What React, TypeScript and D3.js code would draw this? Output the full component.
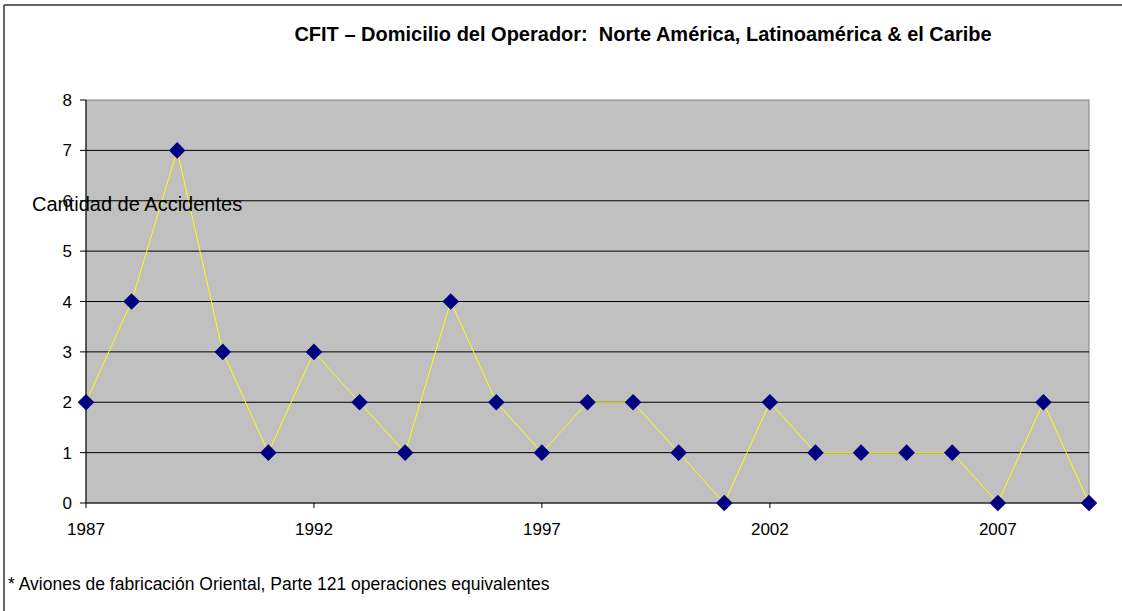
import React from 'react'
import * as d3 from 'd3'

const years = [
  1987, 1988, 1989, 1990, 1991, 1992, 1993, 1994, 1995, 1996, 1997, 1998,
  1999, 2000, 2001, 2002, 2003, 2004, 2005, 2006, 2007, 2008, 2009,
]
const accidents = [2, 4, 7, 3, 1, 3, 2, 1, 4, 2, 1, 2, 2, 1, 0, 2, 1, 1, 1, 1, 0, 2, 0]
const yTicks = [0, 1, 2, 3, 4, 5, 6, 7, 8]
const xTickYears = [1987, 1992, 1997, 2002, 2007]

const title = 'CFIT – Domicilio del Operador:  Norte América, Latinoamérica & el Caribe'
const yLabel = 'Cantidad de Accidentes'
const footnote = '* Aviones de fabricación Oriental, Parte 121 operaciones equivalentes'

const width = 1122
const height = 611
const margin = { top: 100, right: 33, bottom: 108, left: 86 }
const innerWidth = width - margin.left - margin.right
const innerHeight = height - margin.top - margin.bottom

const font = 'Arial, "Liberation Sans", sans-serif'

const App = () => {
  const xScale = d3
    .scaleLinear()
    .domain([years[0], years[years.length - 1]])
    .range([0, innerWidth])
  const yScale = d3.scaleLinear().domain([0, 8]).range([innerHeight, 0])

  const line = d3
    .line<number>()
    .x((d, i) => xScale(years[i]))
    .y((d) => yScale(d))

  const diamond = d3.symbol().type(d3.symbolDiamond2).size(175)()

  return (
    <svg
      width={width}
      height={height}
      style={{ position: 'absolute', left: 0, top: 0, background: '#fff' }}
    >
      {/* outer frame, only top and left edges visible */}
      <line x1={4} y1={5} x2={width} y2={5} stroke='#333' strokeWidth={1.5} />
      <line x1={4} y1={5} x2={4} y2={height} stroke='#333' strokeWidth={1.5} />

      <text
        x={643}
        y={41}
        textAnchor='middle'
        fontFamily={font}
        fontWeight='bold'
        fontSize={20}
        fill='#000'
        style={{ whiteSpace: 'pre' }}
      >
        {title}
      </text>

      <g transform={`translate(${margin.left}, ${margin.top})`}>
        <rect x={0} y={0} width={innerWidth} height={innerHeight} fill='#C0C0C0' />
        <rect
          x={0}
          y={0}
          width={innerWidth}
          height={innerHeight}
          fill='none'
          stroke='#808080'
          strokeWidth={1}
        />
        {yTicks.map((t) => (
          <g key={t}>
            {t > 0 && t < 8 && (
              <line x1={0} x2={innerWidth} y1={yScale(t)} y2={yScale(t)} stroke='#000' />
            )}
            <line x1={-6} x2={0} y1={yScale(t)} y2={yScale(t)} stroke='#000' />
            <text
              x={-14}
              y={yScale(t)}
              dy='0.36em'
              textAnchor='end'
              fontFamily={font}
              fontSize={17}
              fill='#000'
            >
              {t}
            </text>
          </g>
        ))}
        <line x1={0} x2={0} y1={0} y2={innerHeight} stroke='#000' />
        <line x1={0} x2={innerWidth} y1={innerHeight} y2={innerHeight} stroke='#000' />
        {xTickYears.map((yr) => (
          <g key={yr}>
            <line
              x1={xScale(yr)}
              x2={xScale(yr)}
              y1={innerHeight}
              y2={innerHeight + 5}
              stroke='#000'
            />
            <text
              x={xScale(yr)}
              y={innerHeight + 32}
              textAnchor='middle'
              fontFamily={font}
              fontSize={17}
              fill='#000'
            >
              {yr}
            </text>
          </g>
        ))}

        <path d={line(accidents) || ''} fill='none' stroke='#FFFF00' strokeWidth={1} />
        {accidents.map((v, i) => (
          <path
            key={years[i]}
            d={diamond || ''}
            transform={`translate(${xScale(years[i])}, ${yScale(v)})`}
            fill='#000080'
          />
        ))}
      </g>

      <text x={32} y={211} fontFamily={font} fontSize={20} fill='#000'>
        {yLabel}
      </text>

      <text x={8} y={590} fontFamily={font} fontSize={17.5} fill='#000'>
        {footnote}
      </text>
    </svg>
  )
}

export default App
